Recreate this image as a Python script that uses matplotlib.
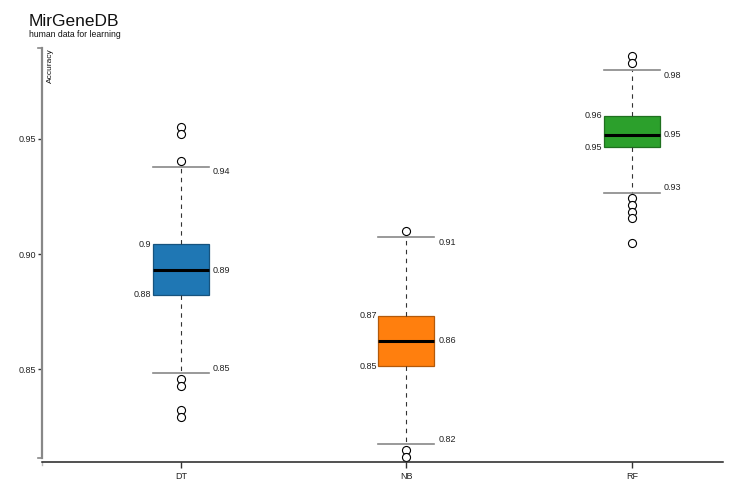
import matplotlib
matplotlib.use("Agg")
import matplotlib.pyplot as plt
from matplotlib.lines import Line2D

plt.rcParams["font.family"] = ["Liberation Sans", "DejaVu Sans"]

# box statistics
models = ["DT", "NB", "RF"]
q1 = [0.8822, 0.8512, 0.9464]
med = [0.8930, 0.8623, 0.9519]
q3 = [0.9042, 0.8732, 0.9601]
whislo = [0.8481, 0.8173, 0.9267]
whishi = [0.9380, 0.9073, 0.9800]
outliers = [
    [0.9551, 0.9522, 0.9406, 0.8455, 0.8426, 0.8322, 0.8290],
    [0.9100, 0.8148, 0.8116],
    [0.9861, 0.9829, 0.9242, 0.9213, 0.9184, 0.9155, 0.9047],
]
fills = ["#1f77b4", "#ff7f0e", "#2ca02c"]
edges = ["#16537e", "#b3590a", "#1f701f"]
y_ticks = [0.85, 0.90, 0.95]

W, H = 736, 503
fig = plt.figure(figsize=(W / 100, H / 100), dpi=100)
ax = fig.add_axes([42 / W, 1 - 462 / H, (723 - 42) / W, (462 - 48) / H])

stats = []
for i, m in enumerate(models):
    stats.append(dict(label=m, q1=q1[i], med=med[i], q3=q3[i],
                      whislo=whislo[i], whishi=whishi[i], fliers=outliers[i]))

pos = list(range(len(models)))
bw = 0.248
bp = ax.bxp(stats, positions=pos, widths=bw, capwidths=bw, patch_artist=True,
            showfliers=True,
            medianprops=dict(color="black", linewidth=2.2),
            whiskerprops=dict(color="#333333", linewidth=0.8, linestyle=(0, (4, 4))),
            capprops=dict(color="#888888", linewidth=1.2),
            flierprops=dict(marker="o", markersize=5.8, markerfacecolor="white",
                            markeredgecolor="black", markeredgewidth=0.8))
for patch, fc, ec in zip(bp["boxes"], fills, edges):
    patch.set_facecolor(fc)
    patch.set_edgecolor(ec)
    patch.set_linewidth(0.9)


def fmt(v):
    return f"{round(v, 2):g}"


lab = dict(fontsize=6.5, color="#222222")
hw = bw / 2
for i in pos:
    ax.annotate(fmt(q3[i]), (i - hw, q3[i]), xytext=(-1, 0), textcoords="offset points",
                ha="right", va="center", **lab)
    ax.annotate(fmt(q1[i]), (i - hw, q1[i]), xytext=(-1, 0), textcoords="offset points",
                ha="right", va="center", **lab)
    ax.annotate(fmt(med[i]), (i + hw, med[i]), xytext=(3, 0), textcoords="offset points",
                ha="left", va="center", **lab)
    ax.annotate(fmt(whishi[i]), (i + hw, whishi[i]), xytext=(3, -3.6), textcoords="offset points",
                ha="left", va="center", **lab)
    ax.annotate(fmt(whislo[i]), (i + hw, whislo[i]), xytext=(3, 3.6), textcoords="offset points",
                ha="left", va="center", **lab)

# y scale: 0.95 at 139px, 0.05 per 115px
ax.set_ylim(0.85 - (462 - 369) / 2300, 0.95 + (139 - 48) / 2300)
ax.set_xlim(-0.616, 2.404)

ax.set_yticks(y_ticks)
ax.set_yticklabels([f"{v:.2f}" for v in y_ticks])
ax.set_xticks(pos)
ax.set_xticklabels(models)
ax.tick_params(axis="y", length=3, width=1, color="#333333", labelsize=6.5, pad=1.5,
               labelcolor="#222222")
ax.tick_params(axis="x", length=4, width=1, color="#333333", labelsize=6.5, pad=3,
               labelcolor="#222222")

for s in ["top", "right"]:
    ax.spines[s].set_visible(False)
y_bot = 0.85 - (458 - 369) / 2300
ax.spines["left"].set_bounds(y_bot, ax.get_ylim()[1])
ax.spines["left"].set_color("#888888")
ax.spines["left"].set_linewidth(1.6)
ax.spines["bottom"].set_color("#222222")
ax.spines["bottom"].set_linewidth(1.1)

# outer end ticks of the y axis and left end of the x axis
tr = ax.get_yaxis_transform()
for yv in (y_bot, ax.get_ylim()[1]):
    ax.add_line(Line2D([-0.006, 0], [yv, yv], transform=tr, color="#888888",
                       linewidth=1.2, clip_on=False))
ax.add_line(Line2D([0, 0], [0, -0.008], transform=ax.transAxes, color="#bbbbbb",
                   linewidth=1.0, clip_on=False))

ax.text(5 / (723 - 42), 1.0, "Accuracy", rotation=90, ha="left", va="top",
        transform=ax.transAxes, fontsize=6, color="#111111")

fig.text(29 / W, 1 - 26 / H, "MirGeneDB", fontsize=12.5, ha="left", va="baseline",
         color="#111111")
fig.text(29 / W, 1 - 37 / H, "human data for learning", fontsize=6.2, ha="left",
         va="baseline", color="#111111")

fig.savefig("out.png", dpi=100)
